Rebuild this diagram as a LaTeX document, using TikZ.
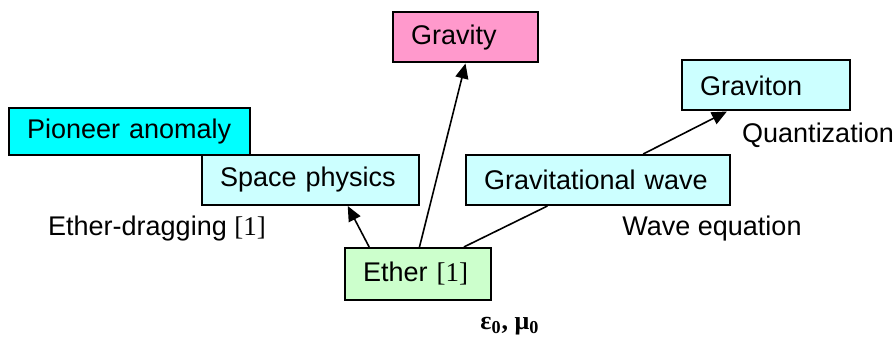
\documentclass[tikz,border=0pt]{standalone}
\usepackage{fontspec}
\setmainfont{Liberation Sans}
\newfontfamily\refserif{Liberation Serif}
\usepackage{xcolor}
\usepackage{tikz}
\usetikzlibrary{arrows.meta,positioning,calc}
\definecolor{gravpink}{HTML}{FF99CC}
\definecolor{anomcyan}{HTML}{00FFFF}
\definecolor{fieldcyan}{HTML}{CCFFFF}
\definecolor{ethergreen}{HTML}{CCFFCC}
\tikzset{
  concept/.style={draw=black,line width=1pt,minimum height=#1,inner xsep=9pt,
    align=left,font=\fontsize{13.5}{15}\selectfont},
  concept/.default=25pt,
  remark/.style={font=\fontsize{13.5}{15}\selectfont},
  link/.style={line width=0.8pt},
  linkto/.style={link,-{Triangle[length=7.5pt,width=6.5pt]}}
}

\begin{document}
\begin{tikzpicture}[x=0.5pt,y=-0.5pt]
    \useasboundingbox (0,0) rectangle (895,341);
    % boxes
    \node[concept,fill=gravpink,text width=54.5pt] (gravity) at (465.5,37.5) {Gravity};
    \node[concept=23.5pt,fill=anomcyan,text width=102.5pt] (pioneer) at (129.5,131.5) {Pioneer anomaly};
    \node[concept,fill=fieldcyan,text width=90.5pt] (space) at (310.5,180) {Space physics};
    \node[concept,fill=fieldcyan,text width=114pt] (gwave) at (598,180) {Gravitational wave};
    \node[concept,fill=fieldcyan,text width=66pt] (graviton) at (766,85.5) {Graviton};
    \node[concept=26pt,fill=ethergreen,text width=55pt] (ether) at (418,274) {Ether {\refserif[1]}};
    % remarks
    \node[remark] (dragging) at (157,229) {Ether-dragging {\refserif[1]}};
    \node[remark] (waveeq) at (712,229) {Wave equation};
    \node[remark] (quant) at (818,135) {Quantization};
    \node[font=\refserif\bfseries\fontsize{13}{15}\selectfont] (consts) at (510,326) {ε\textsubscript{0}, μ\textsubscript{0}};
    % links
    \draw[linkto] ($(ether.north west)!0.17!(ether.north east)$) -- ($(space.south west)!0.67!(space.south east)$);
    \draw[linkto] ($(ether.north west)!0.51!(ether.north east)$) -- (gravity.south);
    \draw[link] ($(ether.north west)!0.81!(ether.north east)$) -- ($(gwave.south west)!0.31!(gwave.south east)$);
    \draw[linkto] ($(gwave.north west)!0.67!(gwave.north east)$) -- ($(graviton.south west)!0.27!(graviton.south east)$);
\end{tikzpicture}
\end{document}
